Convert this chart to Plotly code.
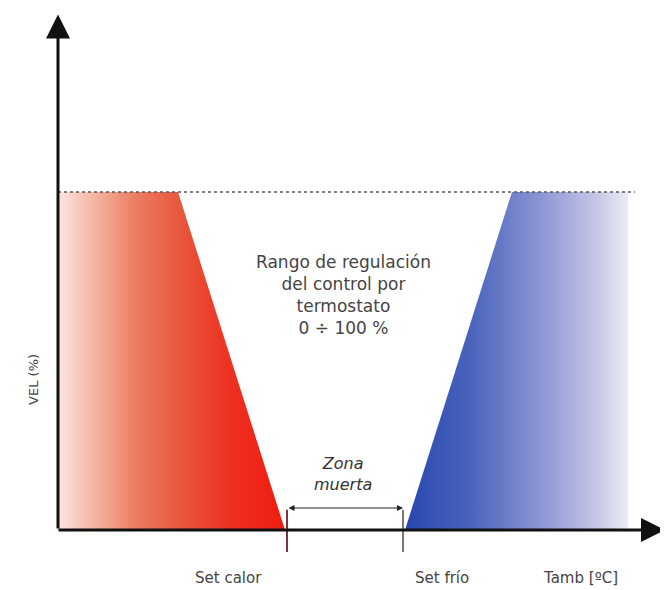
import plotly.graph_objects as go

# --- data (schematic units: x = Tamb axis units, y = VEL %) ---
x_origin = 58
vel_max = 100
heat_x = [58, 58, 178, 285, 58]
heat_y = [0, 100, 100, 0, 0]
cool_x = [405, 512, 628, 628, 405]
cool_y = [0, 100, 100, 0, 0]
set_calor = 287
set_frio = 403
dashed_end = 635
x_axis_end = 665
y_axis_end = 152.5

label_rango = "Rango de regulación<br>del control por<br>termostato<br>0 ÷ 100 %"
label_zona = "<i>Zona<br>muerta</i>"
label_set_calor = "Set calor"
label_set_frio = "Set frío"
label_tamb = "Tamb [ºC]"
label_vel = "VEL (%)"

fig = go.Figure()

fig.add_trace(go.Scatter(
    x=heat_x, y=heat_y, mode="lines", line=dict(width=0),
    fill="toself",
    fillgradient=dict(type="horizontal", colorscale=[
        [0.0, "#fce6e4"], [0.15, "#f4b8a4"], [0.35, "#ec7a62"],
        [0.55, "#e8553a"], [0.75, "#ee3222"], [1.0, "#f01a10"]]),
    hoverinfo="skip", showlegend=False))

fig.add_trace(go.Scatter(
    x=cool_x, y=cool_y, mode="lines", line=dict(width=0),
    fill="toself",
    fillgradient=dict(type="horizontal", colorscale=[
        [0.0, "#2848b0"], [0.3, "#4a64bc"], [0.6, "#8a94d4"],
        [0.85, "#c4c4e4"], [1.0, "#ececf6"]]),
    hoverinfo="skip", showlegend=False))

# dotted limit line at 100 %
fig.add_trace(go.Scatter(
    x=[x_origin, dashed_end], y=[vel_max, vel_max], mode="lines",
    line=dict(color="#555555", width=1.5, dash="dot"),
    hoverinfo="skip", showlegend=False))

# set-point markers
fig.add_trace(go.Scatter(
    x=[set_calor, set_calor], y=[6, -6.5], mode="lines",
    line=dict(color="#7a3448", width=2), hoverinfo="skip", showlegend=False))
fig.add_trace(go.Scatter(
    x=[set_frio, set_frio], y=[6, -6.5], mode="lines",
    line=dict(color="#777777", width=2), hoverinfo="skip", showlegend=False))

ann = []
# axes arrows
ann.append(dict(x=x_origin, y=y_axis_end, ax=x_origin, ay=0, xref="x", yref="y",
                axref="x", ayref="y", showarrow=True, arrowhead=2, arrowsize=1.6,
                arrowwidth=3, arrowcolor="#111111", text=""))
ann.append(dict(x=x_axis_end, y=0, ax=x_origin - 1, ay=0, xref="x", yref="y",
                axref="x", ayref="y", showarrow=True, arrowhead=2, arrowsize=1.6,
                arrowwidth=3, arrowcolor="#111111", text=""))
# dead-zone double arrow
ann.append(dict(x=set_frio, y=6.5, ax=set_calor, ay=6.5, xref="x", yref="y",
                axref="x", ayref="y", showarrow=True, arrowhead=2, startarrowhead=2,
                arrowside="end+start", arrowsize=1, arrowwidth=1.2,
                arrowcolor="#222222", text=""))

font = dict(family="DejaVu Sans, sans-serif", size=15, color="#444444")
ann.append(dict(x=343, y=69.5, xref="x", yref="y", text=label_rango, showarrow=False,
                font=dict(family="DejaVu Sans, sans-serif", size=17, color="#444444")))
ann.append(dict(x=343, y=16.5, xref="x", yref="y", text=label_zona, showarrow=False,
                font=dict(family="DejaVu Sans, sans-serif", size=16, color="#333333")))
ann.append(dict(x=228, y=-14.2, xref="x", yref="y", text=label_set_calor, showarrow=False, font=font))
ann.append(dict(x=442, y=-14.2, xref="x", yref="y", text=label_set_frio, showarrow=False, font=font))
ann.append(dict(x=580, y=-14.2, xref="x", yref="y", text=label_tamb, showarrow=False, font=font))
ann.append(dict(x=34, y=44.4, xref="x", yref="y", text=label_vel, showarrow=False,
                textangle=-90, font=dict(family="DejaVu Sans, sans-serif", size=13, color="#444444")))

fig.update_layout(
    width=660, height=582,
    margin=dict(l=0, r=0, t=0, b=0),
    paper_bgcolor="white", plot_bgcolor="white",
    xaxis=dict(range=[8, 668], visible=False, fixedrange=True),
    yaxis=dict(range=[-17.75, 154.4], visible=False, fixedrange=True),
    annotations=ann,
    showlegend=False,
)

fig.write_html("out.html")
